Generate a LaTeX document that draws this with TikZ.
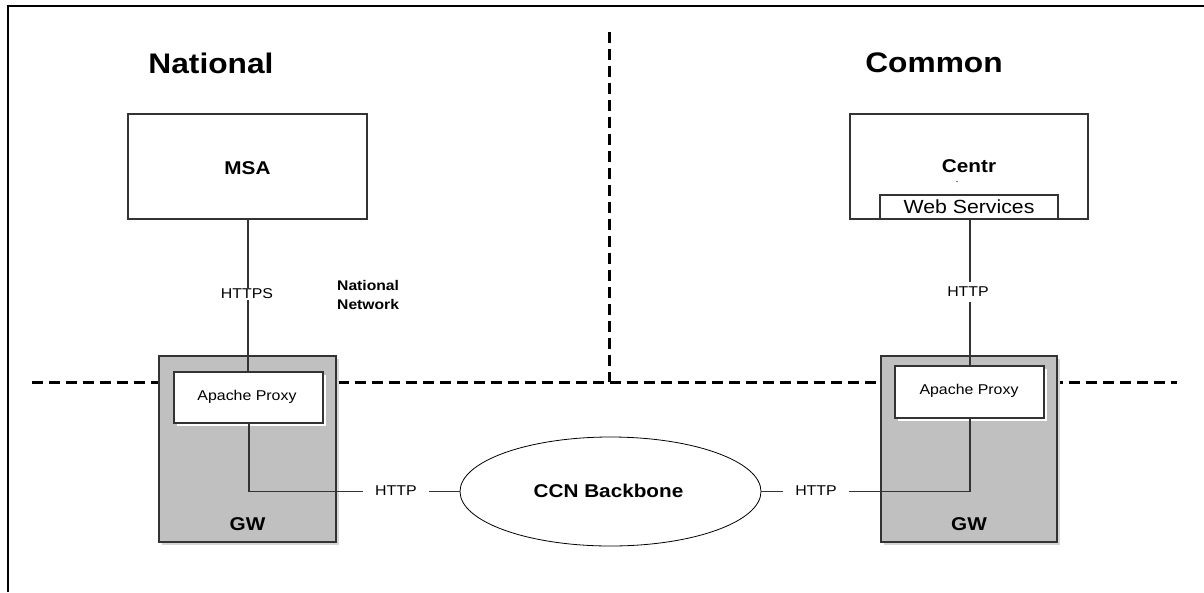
\documentclass[tikz,border=0pt]{standalone}
\usepackage{fontspec}
\setmainfont{Liberation Sans}[FakeStretch=1.12]
\usetikzlibrary{shapes.geometric,shadows}
\definecolor{gwgray}{HTML}{C0C0C0}
\definecolor{gwshadow}{HTML}{D6D6D6}
\definecolor{edgec}{HTML}{333333}
\begin{document}
\begin{tikzpicture}[x=1pt,y=-1pt,
  framel/.style={line width=1.5pt, draw=black},
  divider/.style={line width=3pt, draw=black, dash pattern=on 11pt off 6pt},
  whitebox/.style={draw=edgec, line width=1.2pt, fill=white, inner sep=0pt},
  proxybox/.style={whitebox, general shadow={fill=white, shadow xshift=2.5pt, shadow yshift=-2.5pt}},
  gwbox/.style={draw=edgec, line width=1.3pt, fill=gwgray, inner sep=0pt,
     general shadow={fill=gwshadow, shadow xshift=3pt, shadow yshift=-3pt}},
  cloud/.style={ellipse, draw=black, line width=0.8pt, fill=white, inner sep=0pt},
  conn/.style={draw=edgec, line width=1.3pt},
  title/.style={font=\fontsize{28.3}{32}\selectfont\bfseries},
  blabel/.style={font=\fontsize{18.5}{22}\selectfont\bfseries},
  slabel/.style={font=\fontsize{14.2}{16}\selectfont},
  netlabel/.style={font=\fontsize{14}{19}\selectfont\bfseries, align=left},
  wslabel/.style={font=\fontsize{19}{22}\selectfont},
  hlabel/.style={slabel, fill=white, inner xsep=12pt, inner ysep=5pt}
]
\useasboundingbox (0,0) rectangle (1204,592);

% frame
\coordinate (fbl) at (8,592);
\coordinate (ftl) at (8,6);
\coordinate (ftr) at (1204,6);
\draw[framel] (fbl) -- (ftl) -- (ftr);

% dividers
\coordinate (hl) at (32,382);
\coordinate (hr) at (1177,382);
\coordinate (vt) at (609,32);
\coordinate (vb) at (609,382);
\draw[divider] (hl) -- (hr);
\draw[divider] (vt) -- (vb);

% titles
\node[title] (tnat) at (211,63) {National};
\node[title] (tcom) at (934,63) {Common};

% MSA
\node[whitebox, minimum width=239pt, minimum height=105pt] (msa) at (247.5,166.5) {};
\node[blabel] (msalbl) at (247.5,168) {MSA};

% Centr
\node[whitebox, minimum width=238pt, minimum height=105pt] (centr) at (969,166.5) {};
\node[blabel] (centrlbl) at (969,166) {Centr};
\coordinate (dashA) at (955.5,181);
\coordinate (dashB) at (958,181);
\draw[line width=0.8pt, draw=gray] (dashA) -- (dashB);
\node[whitebox, minimum width=178pt, minimum height=24pt] (ws) at (969,207) {};
\node[wslabel] (wslbl) at (969,206.5) {Web Services};

% National network label
\node[netlabel, anchor=north west, inner sep=0pt] (natnet) at (337,280) {National\\Network};

% GW boxes
\node[gwbox, minimum width=177pt, minimum height=186pt] (gwL) at (247.5,449) {};
\node[gwbox, minimum width=176pt, minimum height=186pt] (gwR) at (969,449) {};
\node[blabel] (gwLlbl) at (247.5,524) {GW};
\node[blabel] (gwRlbl) at (969,524) {GW};

% Apache proxies
\node[proxybox, minimum width=149pt, minimum height=51pt] (apL) at (248.5,397.5) {};
\node[slabel] (apLlbl) at (247,397) {Apache Proxy};
\node[proxybox, minimum width=149pt, minimum height=52pt] (apR) at (969.5,392) {};
\node[slabel] (apRlbl) at (969,391) {Apache Proxy};

% backbone
\node[cloud, minimum width=301pt, minimum height=109pt] (ccn) at (610.5,491.5) {};
\node[blabel] (ccnlbl) at (608.5,491) {CCN Backbone};

% connectors
\draw[conn] (msa.south -| 248,0) -- (apL.north -| 248,0);
\node[slabel, fill=white, inner xsep=2pt, inner ysep=1pt] (https) at (247,294) {HTTPS};

\draw[conn] (ws.south -| 970,0) -- (apR.north -| 970,0);
\node[hlabel, inner xsep=3pt] (httpv) at (968,292) {HTTP};

\draw[conn] (apL.south -| 249,0) |- (ccn.west);
\node[hlabel] (httpl) at (396,491) {HTTP};

\draw[conn] (ccn.east) -| (apR.south -| 970,0);
\node[hlabel] (httpr) at (816,491) {HTTP};
\end{tikzpicture}
\end{document}
